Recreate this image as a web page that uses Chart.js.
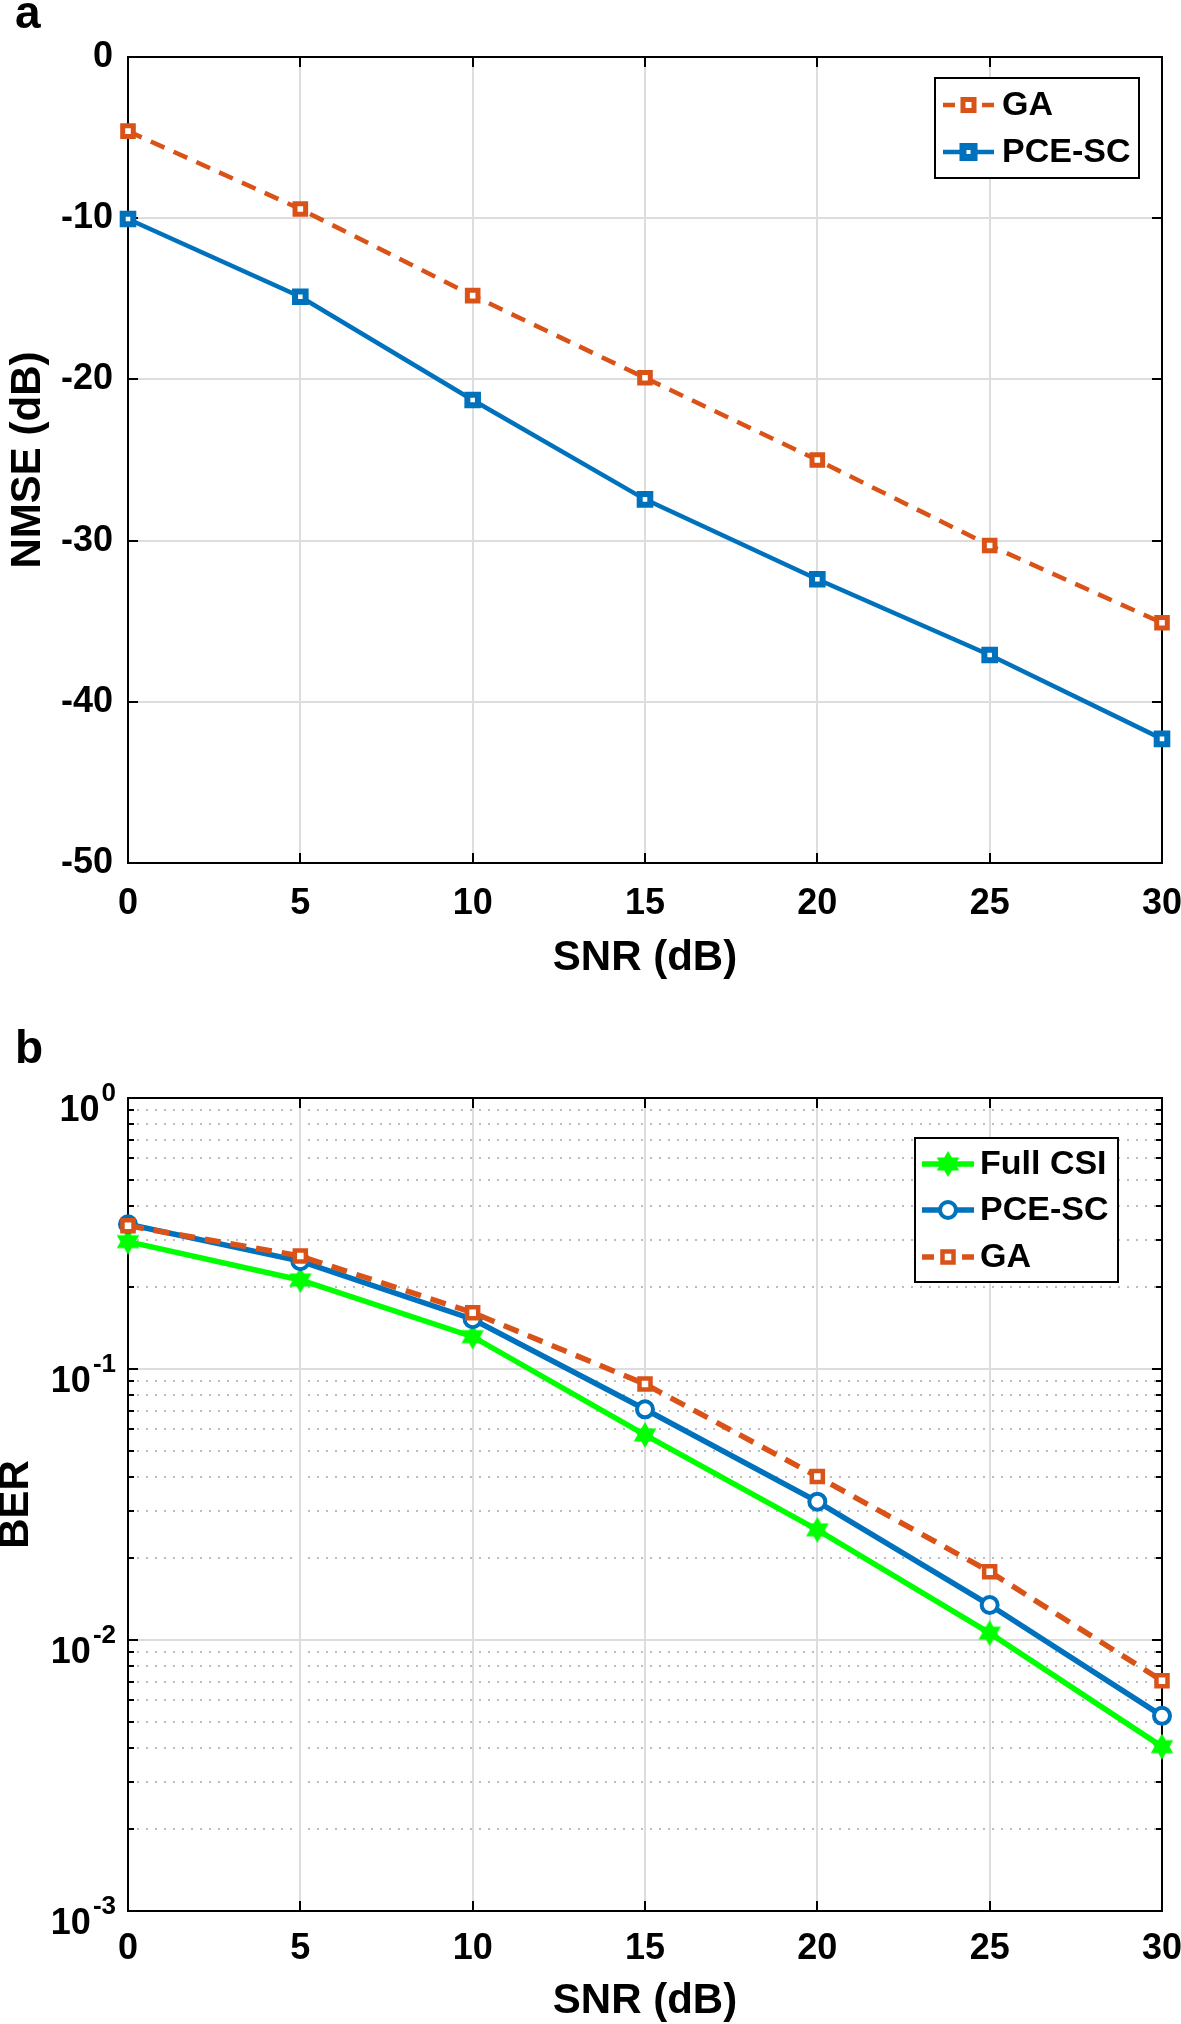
<!DOCTYPE html>
<html><head><meta charset="utf-8">
<script src="https://cdn.jsdelivr.net/npm/chart.js@4.4.1/dist/chart.umd.min.js"></script>
<style>
html,body{margin:0;padding:0;background:#fff;}
#wrap{position:relative;width:1181px;height:2024px;overflow:hidden;background:#fff;}
canvas{position:absolute;left:0;}
</style></head><body>
<div id="wrap">
<canvas id="c1" width="1181" height="1010" style="top:0px"></canvas>
<canvas id="c2" width="1181" height="1014" style="top:1010px"></canvas>
</div>
<script>
// ---------- data ----------
const snr = [0, 5, 10, 15, 20, 25, 30];
const nmseGA  = [-4.6, -9.43, -14.8, -19.9, -25.0, -30.3, -35.1];
const nmsePCE = [-10.05, -14.87, -21.28, -27.44, -32.4, -37.1, -42.3];
const berFull = [0.295, 0.213, 0.1316, 0.0571, 0.0255, 0.0106, 0.00404];
const berPCE  = [0.342, 0.250, 0.1526, 0.0710, 0.0324, 0.01346, 0.00525];
const berGA   = [0.338, 0.261, 0.1614, 0.0880, 0.0401, 0.01787, 0.00708];
const xTicks = [0, 5, 10, 15, 20, 25, 30];
const nmseTicks = [0, -10, -20, -30, -40, -50];
const berDecades = [1, 0.1, 0.01, 0.001];
const berMinorFactors = [2, 3, 4, 5, 6, 7, 8, 9];

// ---------- styles ----------
const FAM = "'Liberation Sans', Arial, Helvetica, sans-serif";
const ORANGE = '#D95319', BLUE = '#0072BD', GREEN = '#00FF00';
Chart.defaults.font.family = FAM;
Chart.defaults.color = '#000';

const berMinor = [];
berDecades.forEach(d => { if (d < 1) berMinorFactors.forEach(f => berMinor.push(d * f)); });

// hexagram marker image
function makeHexagram(R, color) {
  const c = document.createElement('canvas');
  const size = Math.ceil(2 * R + 4);
  c.width = size; c.height = size;
  const g = c.getContext('2d');
  const cx = size / 2, cy = size / 2, r = R / Math.sqrt(3);
  g.beginPath();
  for (let k = 0; k < 12; k++) {
    const ang = -Math.PI / 2 + k * Math.PI / 6;
    const rr = (k % 2 === 0) ? R : r;
    const px = cx + rr * Math.cos(ang), py = cy + rr * Math.sin(ang);
    if (k === 0) g.moveTo(px, py); else g.lineTo(px, py);
  }
  g.closePath();
  g.fillStyle = color; g.fill();
  g.strokeStyle = color; g.lineWidth = 2; g.stroke();
  return c;
}
const hexStar = makeHexagram(11, GREEN);

function drawMarker(ctx, m, x, y) {
  ctx.save();
  ctx.setLineDash([]);
  if (m.type === 'rect') {
    const s = m.r * Math.SQRT1_2;
    ctx.fillStyle = '#fff';
    ctx.fillRect(x - s, y - s, 2 * s, 2 * s);
    ctx.strokeStyle = m.color; ctx.lineWidth = m.bw;
    ctx.strokeRect(x - s, y - s, 2 * s, 2 * s);
  } else if (m.type === 'circle') {
    ctx.beginPath(); ctx.arc(x, y, m.r, 0, Math.PI * 2);
    ctx.fillStyle = '#fff'; ctx.fill();
    ctx.strokeStyle = m.color; ctx.lineWidth = m.bw; ctx.stroke();
  } else if (m.type === 'star') {
    ctx.drawImage(hexStar, x - hexStar.width / 2, y - hexStar.height / 2);
  }
  ctx.restore();
}

const matlabAxes = {
  id: 'matlabAxes',
  beforeDatasetsDraw(chart, args, o) {
    const {ctx, chartArea: a, scales: {x, y}} = chart;
    const L = a.left, R = a.right, T = a.top, B = a.bottom;
    ctx.save();
    if (o.yMinor) {
      ctx.strokeStyle = '#bdbdbd'; ctx.lineWidth = 2; ctx.setLineDash([2, 7]);
      o.yMinor.forEach(v => {
        const p = Math.round(y.getPixelForValue(v));
        ctx.beginPath(); ctx.moveTo(L + 9, p); ctx.lineTo(R - 4, p); ctx.stroke();
      });
      ctx.setLineDash([]);
    }
    ctx.strokeStyle = '#dddddd'; ctx.lineWidth = 2;
    o.xTicks.forEach(v => {
      const p = Math.round(x.getPixelForValue(v));
      if (p <= L + 1 || p >= R - 1) return;
      ctx.beginPath(); ctx.moveTo(p, T); ctx.lineTo(p, B); ctx.stroke();
    });
    o.yTicks.forEach(v => {
      const p = Math.round(y.getPixelForValue(v));
      if (p <= T + 1 || p >= B - 1) return;
      ctx.beginPath(); ctx.moveTo(L, p); ctx.lineTo(R, p); ctx.stroke();
    });
    ctx.strokeStyle = '#000'; ctx.lineWidth = 2;
    ctx.strokeRect(L, T, R - L, B - T);
    ctx.beginPath();
    o.xTicks.forEach(v => {
      const p = Math.round(x.getPixelForValue(v));
      ctx.moveTo(p, B); ctx.lineTo(p, B - 10);
      ctx.moveTo(p, T); ctx.lineTo(p, T + 10);
    });
    o.yTicks.forEach(v => {
      const p = Math.round(y.getPixelForValue(v));
      ctx.moveTo(L, p); ctx.lineTo(L + 10, p);
      ctx.moveTo(R, p); ctx.lineTo(R - 10, p);
    });
    if (o.yMinor) {
      o.yMinor.forEach(v => {
        const p = Math.round(y.getPixelForValue(v));
        ctx.moveTo(L, p); ctx.lineTo(L + 6, p);
        ctx.moveTo(R, p); ctx.lineTo(R - 6, p);
      });
    }
    ctx.stroke();
    ctx.restore();
  },
  afterDatasetsDraw(chart, args, o) {
    const {ctx, chartArea: a} = chart;
    const lg = o.legend;
    if (!lg) return;
    ctx.save();
    const bx = a.right - lg.fromRight, by = a.top + lg.fromTop;
    ctx.fillStyle = '#fff';
    ctx.fillRect(bx, by, lg.w, lg.h);
    ctx.strokeStyle = '#000'; ctx.lineWidth = 2;
    ctx.strokeRect(bx, by, lg.w, lg.h);
    lg.items.forEach(it => {
      const yy = by + it.dy;
      const x0 = bx + lg.lineX0, x1 = bx + lg.lineX1;
      ctx.strokeStyle = it.color; ctx.lineWidth = it.lw;
      ctx.setLineDash([]);
      ctx.beginPath();
      if (it.dashed) {
        ctx.moveTo(x0, yy); ctx.lineTo(x0 + 12, yy);
        ctx.moveTo(x1 - 12, yy); ctx.lineTo(x1, yy);
      } else {
        ctx.moveTo(x0, yy); ctx.lineTo(x1, yy);
      }
      ctx.stroke();
      drawMarker(ctx, it.marker, (x0 + x1) / 2, yy);
      ctx.fillStyle = '#000';
      ctx.font = 'bold 34px ' + FAM;
      ctx.textAlign = 'left'; ctx.textBaseline = 'middle';
      ctx.fillText(it.label, bx + lg.textX, yy + 1);
    });
    ctx.restore();
  },
  afterDraw(chart, args, o) {
    const {ctx, scales: {y}} = chart;
    ctx.save();
    if (o.logLabels) {
      o.logLabels.forEach(v => {
        const p = y.getPixelForValue(v);
        const e = String(Math.round(Math.log10(v)));
        ctx.fillStyle = '#000';
        ctx.textBaseline = 'alphabetic';
        ctx.textAlign = 'right';
        ctx.font = 'bold 26px ' + FAM;
        const ew = ctx.measureText(e).width;
        ctx.fillText(e, 116, p + 3);
        ctx.font = 'bold 36px ' + FAM;
        ctx.fillText('10', 116 - ew - 2, p + 23);
      });
    }
    if (o.panel) {
      ctx.fillStyle = '#000';
      ctx.font = 'bold 46px ' + FAM;
      ctx.textAlign = 'left'; ctx.textBaseline = 'alphabetic';
      ctx.fillText(o.panel.text, o.panel.x, o.panel.y);
    }
    ctx.restore();
  }
};

function pts(ys) { return snr.map((s, i) => ({x: s, y: ys[i]})); }

function xScale(canvasH, bottom, tickPad, titlePad) {
  return {
    type: 'linear', min: 0, max: 30,
    grid: {display: false, drawTicks: false}, border: {display: false},
    ticks: {stepSize: 5, autoSkip: false, maxRotation: 0, padding: tickPad,
            font: {size: 36, weight: 'bold'}, color: '#000'},
    title: {display: true, text: 'SNR (dB)', color: '#000',
            font: {size: 42, weight: 'bold', lineHeight: 1}, padding: {top: 0, bottom: titlePad}},
    afterFit: s => { s.height = canvasH - bottom; s.paddingLeft = 0; s.paddingRight = 0; }
  };
}

// ---------- chart a ----------
new Chart(document.getElementById('c1'), {
  type: 'line',
  data: {datasets: [
    {label: 'GA', data: pts(nmseGA), borderColor: ORANGE, borderWidth: 4.5, borderDash: [15, 10],
     pointStyle: 'rect', pointRadius: 7.5, pointBorderWidth: 5, pointBackgroundColor: '#fff',
     pointBorderColor: ORANGE, clip: false, tension: 0, order: 0},
    {label: 'PCE-SC', data: pts(nmsePCE), borderColor: BLUE, borderWidth: 4.5,
     pointStyle: 'rect', pointRadius: 7.5, pointBorderWidth: 6, pointBackgroundColor: '#fff',
     pointBorderColor: BLUE, clip: false, tension: 0, order: 1}
  ]},
  options: {
    responsive: false, animation: false, events: [],
    layout: {padding: {top: 57, right: 19, left: 0, bottom: 0}},
    plugins: {
      legend: {display: false}, tooltip: {enabled: false},
      matlabAxes: {
        xTicks: xTicks, yTicks: nmseTicks,
        panel: {text: 'a', x: 15, y: 28},
        legend: {fromRight: 227, fromTop: 21, w: 204, h: 100, lineX0: 8, lineX1: 59, textX: 67,
          items: [
            {label: 'GA', color: ORANGE, lw: 4.5, dashed: true, dy: 27,
             marker: {type: 'rect', r: 7.8, bw: 5, color: ORANGE}},
            {label: 'PCE-SC', color: BLUE, lw: 4.5, dashed: false, dy: 74,
             marker: {type: 'rect', r: 7.8, bw: 7, color: BLUE}}
          ]}
      }
    },
    scales: {
      x: xScale(1010, 863, 19, 31),
      y: {
        type: 'linear', min: -50, max: 0,
        grid: {display: false, drawTicks: false}, border: {display: false},
        ticks: {stepSize: 10, padding: 15, font: {size: 36, weight: 'bold'}, color: '#000'},
        title: {display: true, text: 'NMSE (dB)', color: '#000',
                font: {size: 42, weight: 'bold', lineHeight: 1}, padding: {top: 7, bottom: 0}},
        afterFit: s => { s.width = 128; s.paddingTop = 0; s.paddingBottom = 0; }
      }
    }
  },
  plugins: [matlabAxes]
});

// ---------- chart b ----------
new Chart(document.getElementById('c2'), {
  type: 'line',
  data: {datasets: [
    {label: 'Full CSI', data: pts(berFull), borderColor: GREEN, borderWidth: 5.5,
     pointStyle: hexStar, clip: false, tension: 0, order: 2},
    {label: 'PCE-SC', data: pts(berPCE), borderColor: BLUE, borderWidth: 5.5,
     pointStyle: 'circle', pointRadius: 8, pointBorderWidth: 4, pointBackgroundColor: '#fff',
     pointBorderColor: BLUE, clip: false, tension: 0, order: 1},
    {label: 'GA', data: pts(berGA), borderColor: ORANGE, borderWidth: 5.5, borderDash: [16, 10],
     pointStyle: 'rect', pointRadius: 7.8, pointBorderWidth: 4.5, pointBackgroundColor: '#fff',
     pointBorderColor: ORANGE, clip: false, tension: 0, order: 0}
  ]},
  options: {
    responsive: false, animation: false, events: [],
    layout: {padding: {top: 88, right: 19, left: 0, bottom: 0}},
    plugins: {
      legend: {display: false}, tooltip: {enabled: false},
      matlabAxes: {
        xTicks: xTicks, yTicks: berDecades, yMinor: berMinor, logLabels: berDecades,
        panel: {text: 'b', x: 15, y: 53},
        legend: {fromRight: 247, fromTop: 40, w: 203, h: 144, lineX0: 7, lineX1: 59, textX: 65,
          items: [
            {label: 'Full CSI', color: GREEN, lw: 5.5, dashed: false, dy: 26,
             marker: {type: 'star'}},
            {label: 'PCE-SC', color: BLUE, lw: 5.5, dashed: false, dy: 72,
             marker: {type: 'circle', r: 8, bw: 4, color: BLUE}},
            {label: 'GA', color: ORANGE, lw: 5.5, dashed: true, dy: 119,
             marker: {type: 'rect', r: 7.8, bw: 4.5, color: ORANGE}}
          ]}
      }
    },
    scales: {
      x: xScale(1014, 901, 16, 2),
      y: {
        type: 'logarithmic', min: 0.001, max: 1,
        grid: {display: false, drawTicks: false}, border: {display: false},
        ticks: {display: false},
        title: {display: true, text: 'BER', color: '#000',
                font: {size: 42, weight: 'bold', lineHeight: 0.8}, padding: {top: 0, bottom: 0}},
        afterFit: s => { s.width = 128; s.paddingTop = 0; s.paddingBottom = 0; }
      }
    }
  },
  plugins: [matlabAxes]
});
</script>
</body></html>
